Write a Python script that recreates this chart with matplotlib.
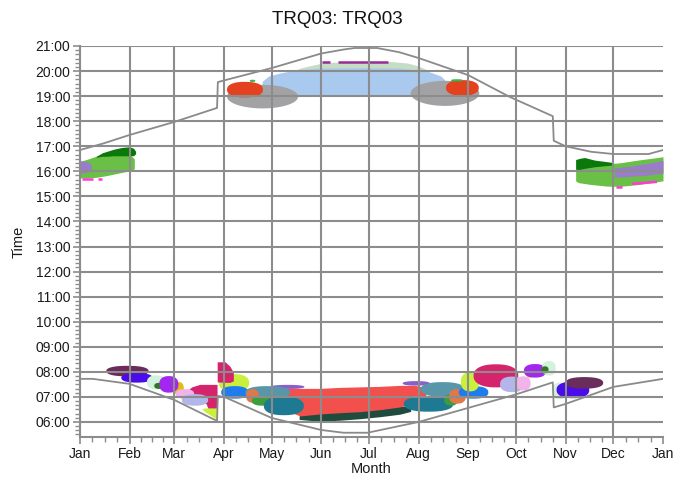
import numpy as np
import matplotlib
matplotlib.use("Agg")
import matplotlib.pyplot as plt

plt.rcParams['font.family'] = ['Liberation Sans', 'DejaVu Sans']

# ---------------- data ----------------
TITLE = "TRQ03: TRQ03"
MONTH_LABELS = ['Jan', 'Feb', 'Mar', 'Apr', 'May', 'Jun', 'Jul', 'Aug', 'Sep', 'Oct', 'Nov', 'Dec', 'Jan']
MONTH_START_DAYS = [0, 31, 59, 90, 120, 151, 181, 212, 243, 273, 304, 334, 365]
HOUR_TICKS = list(range(6, 22))

SUNSET_DAYS = [0, 15, 31, 59, 85.8, 86.3, 91, 120, 151, 165, 172, 186, 200, 212, 243, 269, 296, 296.6, 304, 320, 334, 356, 365]
SUNSET_HOURS = [16.85, 17.12, 17.45, 17.97, 18.53, 19.56, 19.64, 20.12, 20.70, 20.86, 20.92, 20.92, 20.75, 20.52, 19.84, 18.97, 18.20, 17.22, 17.00, 16.78, 16.69, 16.69, 16.85]
SUNRISE_DAYS = [0, 8, 31, 59, 85.8, 86.3, 91, 120, 151, 165, 180, 212, 243, 273, 296, 296.6, 304, 334, 365]
SUNRISE_HOURS = [7.72, 7.72, 7.52, 6.88, 6.04, 7.04, 6.98, 6.16, 5.68, 5.57, 5.57, 6.00, 6.56, 7.10, 7.58, 6.58, 6.72, 7.40, 7.72]

# glare bands (day, low hour, high hour)
LGE_DAYS = [133, 139, 146, 153, 170, 195, 205, 212, 219]
LGE_HI = [20.0, 20.14, 20.24, 20.34, 20.38, 20.38, 20.32, 20.2, 20.0]
LGE_LO = [19.9, 19.9, 19.95, 20.0, 20.05, 20.05, 20.0, 19.95, 19.9]

BLUE_DAYS = [113.3, 114.2, 118, 125, 135, 150, 175, 200, 212, 220, 226, 229.8, 230.6]
BLUE_HI = [19.2, 19.6, 19.8, 19.92, 20.04, 20.12, 20.14, 20.12, 20.04, 19.94, 19.8, 19.55, 19.2]
BLUE_LO = [19.1, 19.03, 19.02, 19.02, 19.02, 19.02, 19.02, 19.02, 19.02, 19.02, 19.03, 19.05, 19.1]

LGL_DAYS = [0, 4, 10, 16, 22, 28, 32, 34]
LGL_HI = [16.4, 16.47, 16.6, 16.66, 16.66, 16.66, 16.62, 16.5]
LGL_LO = [15.74, 15.73, 15.76, 15.82, 15.9, 15.98, 16.04, 16.1]

DGL_DAYS = [10.2, 14, 17, 21, 26, 31, 33.5, 34.8]
DGL_HI = [16.6, 16.74, 16.8, 16.88, 16.95, 16.98, 16.92, 16.8]
DGL_LO = [16.56, 16.6, 16.6, 16.62, 16.62, 16.62, 16.62, 16.7]

LGR_DAYS = [310.3, 312, 319.3, 329.9, 338.1, 350.6, 365]
LGR_HI = [16.05, 16.22, 16.22, 16.3, 16.34, 16.46, 16.58]
LGR_LO = [15.62, 15.55, 15.48, 15.41, 15.4, 15.48, 15.62]

DGR_DAYS = [310.3, 313, 316, 322, 328, 333.8]
DGR_HI = [16.47, 16.52, 16.55, 16.45, 16.4, 16.35]
DGR_LO = [16.08, 16.08, 16.12, 16.18, 16.22, 16.25]

PUR_R_DAYS = [334.6, 344.3, 353.7, 365]
PUR_R_HI = [16.14, 16.2, 16.3, 16.43]
PUR_R_LO = [15.76, 15.8, 15.84, 15.92]

DKB_DAYS = [137.2, 150, 162.8, 175.3, 187.8, 200.3, 207]
DKB_HI = [6.42, 6.42, 6.46, 6.5, 6.56, 6.62, 6.62]
DKB_LO = [6.1, 6.03, 6.07, 6.13, 6.21, 6.31, 6.42]

CORAL_DAYS = [126.6, 131.5, 137.7, 150.3, 162.8, 175.3, 187.8, 200.3, 209.7, 214.5, 216.5]
CORAL_HI = [7.3, 7.36, 7.34, 7.34, 7.38, 7.4, 7.42, 7.46, 7.46, 7.4, 7.2]
CORAL_LO = [6.5, 6.4, 6.24, 6.32, 6.37, 6.41, 6.49, 6.6, 6.72, 6.86, 7.0]

CRM_MAR_DAYS = [66.5, 70, 75, 79, 80.5, 85.8]
CRM_MAR_HI = [7.22, 7.4, 7.5, 7.5, 7.5, 7.5]
CRM_MAR_LO = [7.1, 7.0, 6.92, 6.72, 6.48, 6.46]

YG_MAR_DAYS = [76.2, 78, 85.6]
YG_MAR_HI = [6.52, 6.56, 6.56]
YG_MAR_LO = [6.52, 6.42, 6.1]

CRM_APR_DAYS = [85.9, 90.8, 93.9, 96.0]
CRM_APR_HI = [8.4, 8.4, 8.22, 7.98]
CRM_APR_LO = [7.6, 7.58, 7.58, 7.64]

# glare blobs: colour key, centre day, centre hour, span days, span hours
BLOB_KEYS = ['grey', 'grey', 'red', 'red', 'gdot', 'gdot', 'lavpurple',
             'maroon', 'bviolet', 'mint', 'dkgreen2', 'gold', 'pmag', 'pink', 'lavender',
             'ygreen', 'bblue', 'thinpurple', 'steel', 'orange', 'green', 'dteal',
             'thinpurple', 'steel', 'dteal', 'green', 'orange', 'bblue', 'ygreen', 'crimson',
             'lavender', 'pink', 'gold', 'pmag', 'mint', 'dkgreen2',
             'mint', 'bviolet', 'maroon']
BLOB_DAY = [114.3, 228.5, 103.3, 239.4, 108, 236, 0.5,
            29.7, 35.6, 47.9, 49.5, 62, 55.6, 65.7, 72,
            96.4, 96.9, 130, 117.5, 108, 114.3, 127.6,
            210.5, 227, 218.2, 232.3, 236.3, 246.4, 244.2, 260.4,
            270.5, 277.6, 281.7, 284.9, 293.6, 291.1,
            300.5, 308.6, 315.8]
BLOB_HOUR = [18.98, 19.11, 19.26, 19.33, 19.61, 19.63, 16.15,
             8.03, 7.76, 7.58, 7.44, 7.32, 7.5, 7.12, 6.88,
             7.56, 7.18, 7.4, 7.18, 7.04, 6.84, 6.64,
             7.54, 7.3, 6.72, 6.88, 7.02, 7.18, 7.6, 7.84,
             7.5, 7.54, 7.98, 8.04, 8.14, 8.08,
             7.24, 7.28, 7.56]
BLOB_SPAN_DAYS = [44.5, 43.0, 22.5, 20.5, 3.5, 7.5, 14,
                  26.5, 19.5, 12, 6, 6, 12, 11.5, 16.5,
                  19, 17, 21, 28, 8, 13.5, 25,
                  17, 27.5, 31, 8.5, 10.5, 18.5, 11.5, 28,
                  15, 9, 5, 14, 8.5, 4.5,
                  10, 20.5, 23.5]
BLOB_SPAN_HOURS = [0.94, 1.0, 0.62, 0.62, 0.09, 0.09, 0.48,
                   0.42, 0.38, 0.56, 0.24, 0.54, 0.66, 0.38, 0.46,
                   0.7, 0.5, 0.16, 0.5, 0.54, 0.38, 0.74,
                   0.18, 0.58, 0.62, 0.46, 0.58, 0.5, 0.76, 0.92,
                   0.62, 0.56, 0.42, 0.54, 0.58, 0.28,
                   0.66, 0.66, 0.46]

# thin glare streaks: colour key, start day, end day, start hour, end hour
SEG_KEYS = ['magenta', 'magenta', 'magenta', 'magenta', 'plum', 'plum']
SEG_DAY0 = [1.2, 11.3, 335.6, 345.5, 151.5, 161.5]
SEG_DAY1 = [8.2, 13.8, 339.4, 361.2, 156.5, 192.8]
SEG_HR0 = [15.68, 15.71, 15.38, 15.5, 20.38, 20.38]
SEG_HR1 = [15.68, 15.71, 15.38, 15.58, 20.38, 20.38]

# ---------------- style ----------------
COLORS = {
    'grey': '#a2a2a4', 'red': '#e4421e', 'gdot': '#33b84a', 'lavpurple': '#9a7ccb',
    'maroon': '#6a2c5a', 'bviolet': '#4a0ce8', 'mint': '#d2f2dc', 'dkgreen2': '#2c7a1c',
    'pmag': '#a228ef', 'gold': '#e0be10', 'pink': '#f2b2ea', 'lavender': '#b2b6ea',
    'crimson': '#d6246c', 'ygreen': '#caf03e', 'bblue': '#1c7cf0', 'steel': '#5896aa',
    'orange': '#e0784a', 'green': '#3c9e3a', 'dteal': '#1e7a92', 'coral': '#f2504c',
    'dkband': '#1f4c3e', 'thinpurple': '#8860cc', 'lightblue': '#a9c9ee',
    'lgreen_eve': '#c5dcc5', 'ltgreen': '#6abf46', 'dkgreen': '#0a780a',
    'magenta': '#ff3cd0', 'plum': '#982b98',
}
SHAPE_EXP = {'grey': 2.0}
GRID_C = '#8c8c8c'

fig = plt.figure(figsize=(6.75, 4.82), dpi=100)
ax = fig.add_axes([80 / 675, 1 - 437 / 482, 583 / 675, 391 / 482])


def band(days, lo, hi, key, z=1.0):
    ax.fill_between(days, lo, hi, color=COLORS[key], lw=0, zorder=z)


def blob(dc, hc, w, h, key, z):
    t = np.linspace(0, 2 * np.pi, 120)
    c, s = np.cos(t), np.sin(t)
    p = SHAPE_EXP.get(key, 2.35)
    x = dc + w / 2 * np.sign(c) * np.abs(c) ** (2 / p)
    y = hc + h / 2 * np.sign(s) * np.abs(s) ** (2 / p)
    ax.fill(x, y, color=COLORS[key], lw=0, zorder=z)


# bands
band(LGE_DAYS, LGE_LO, LGE_HI, 'lgreen_eve', 1.0)
band(BLUE_DAYS, BLUE_LO, BLUE_HI, 'lightblue', 1.1)
band(LGL_DAYS, LGL_LO, LGL_HI, 'ltgreen', 1.0)
band(DGL_DAYS, DGL_LO, DGL_HI, 'dkgreen', 1.1)
band(LGR_DAYS, LGR_LO, LGR_HI, 'ltgreen', 1.0)
band(DGR_DAYS, DGR_LO, DGR_HI, 'dkgreen', 1.1)
band(PUR_R_DAYS, PUR_R_LO, PUR_R_HI, 'lavpurple', 1.1)
band(DKB_DAYS, DKB_LO, DKB_HI, 'dkband', 1.0)
band(CORAL_DAYS, CORAL_LO, CORAL_HI, 'coral', 1.1)
band(CRM_MAR_DAYS, CRM_MAR_LO, CRM_MAR_HI, 'crimson', 1.05)
band(YG_MAR_DAYS, YG_MAR_LO, YG_MAR_HI, 'ygreen', 1.05)
band(CRM_APR_DAYS, CRM_APR_LO, CRM_APR_HI, 'crimson', 2.0)

for i, k in enumerate(BLOB_KEYS):
    blob(BLOB_DAY[i], BLOB_HOUR[i], BLOB_SPAN_DAYS[i], BLOB_SPAN_HOURS[i], k, 1.2 + i * 0.01)

for i, k in enumerate(SEG_KEYS):
    ax.plot([SEG_DAY0[i], SEG_DAY1[i]], [SEG_HR0[i], SEG_HR1[i]], color=COLORS[k],
            lw=1.8, solid_capstyle='butt', zorder=1.9)

# sunrise / sunset
ax.plot(SUNSET_DAYS, SUNSET_HOURS, color='#8a8a8a', lw=1.3, zorder=2.2)
ax.plot(SUNRISE_DAYS, SUNRISE_HOURS, color='#8a8a8a', lw=1.3, zorder=2.2)

ax.set_xlim(0, 365)
ax.set_ylim(5.4, 21)

ax.set_xticks(MONTH_START_DAYS)
ax.set_xticklabels(MONTH_LABELS)
minor_x = []
for a, b in zip(MONTH_START_DAYS[:-1], MONTH_START_DAYS[1:]):
    minor_x += [a + (b - a) * q / 4 for q in (1, 2, 3)]
ax.set_xticks(minor_x, minor=True)

ax.set_yticks(HOUR_TICKS)
ax.set_yticklabels(['%02d:00' % h for h in HOUR_TICKS])
ax.set_yticks(np.arange(5.5, 21.0, 1 / 6), minor=True)

ax.set_axisbelow(False)
ax.grid(True, which='major', color=GRID_C, lw=1.5)
ax.xaxis.get_gridlines()[-1].set_visible(False)

for s in ('top', 'right'):
    ax.spines[s].set_visible(False)
for s in ('left', 'bottom'):
    ax.spines[s].set_color(GRID_C)
    ax.spines[s].set_linewidth(1.5)

ax.tick_params(which='major', direction='out', length=5, width=1.2, color=GRID_C,
               labelsize=10, labelcolor='#1a1a1a', pad=2)
ax.tick_params(which='minor', direction='out', length=3.5, width=1.0, color=GRID_C)

ax.set_xlabel('Month', fontsize=10.5, color='#1a1a1a', labelpad=1)
ax.set_ylabel('Time', fontsize=10.5, color='#1a1a1a', labelpad=7)
fig.text(0.5, 1 - 19 / 482, TITLE, ha='center', va='center', fontsize=13.5, color='#111111')

fig.savefig('out.png', dpi=100)
